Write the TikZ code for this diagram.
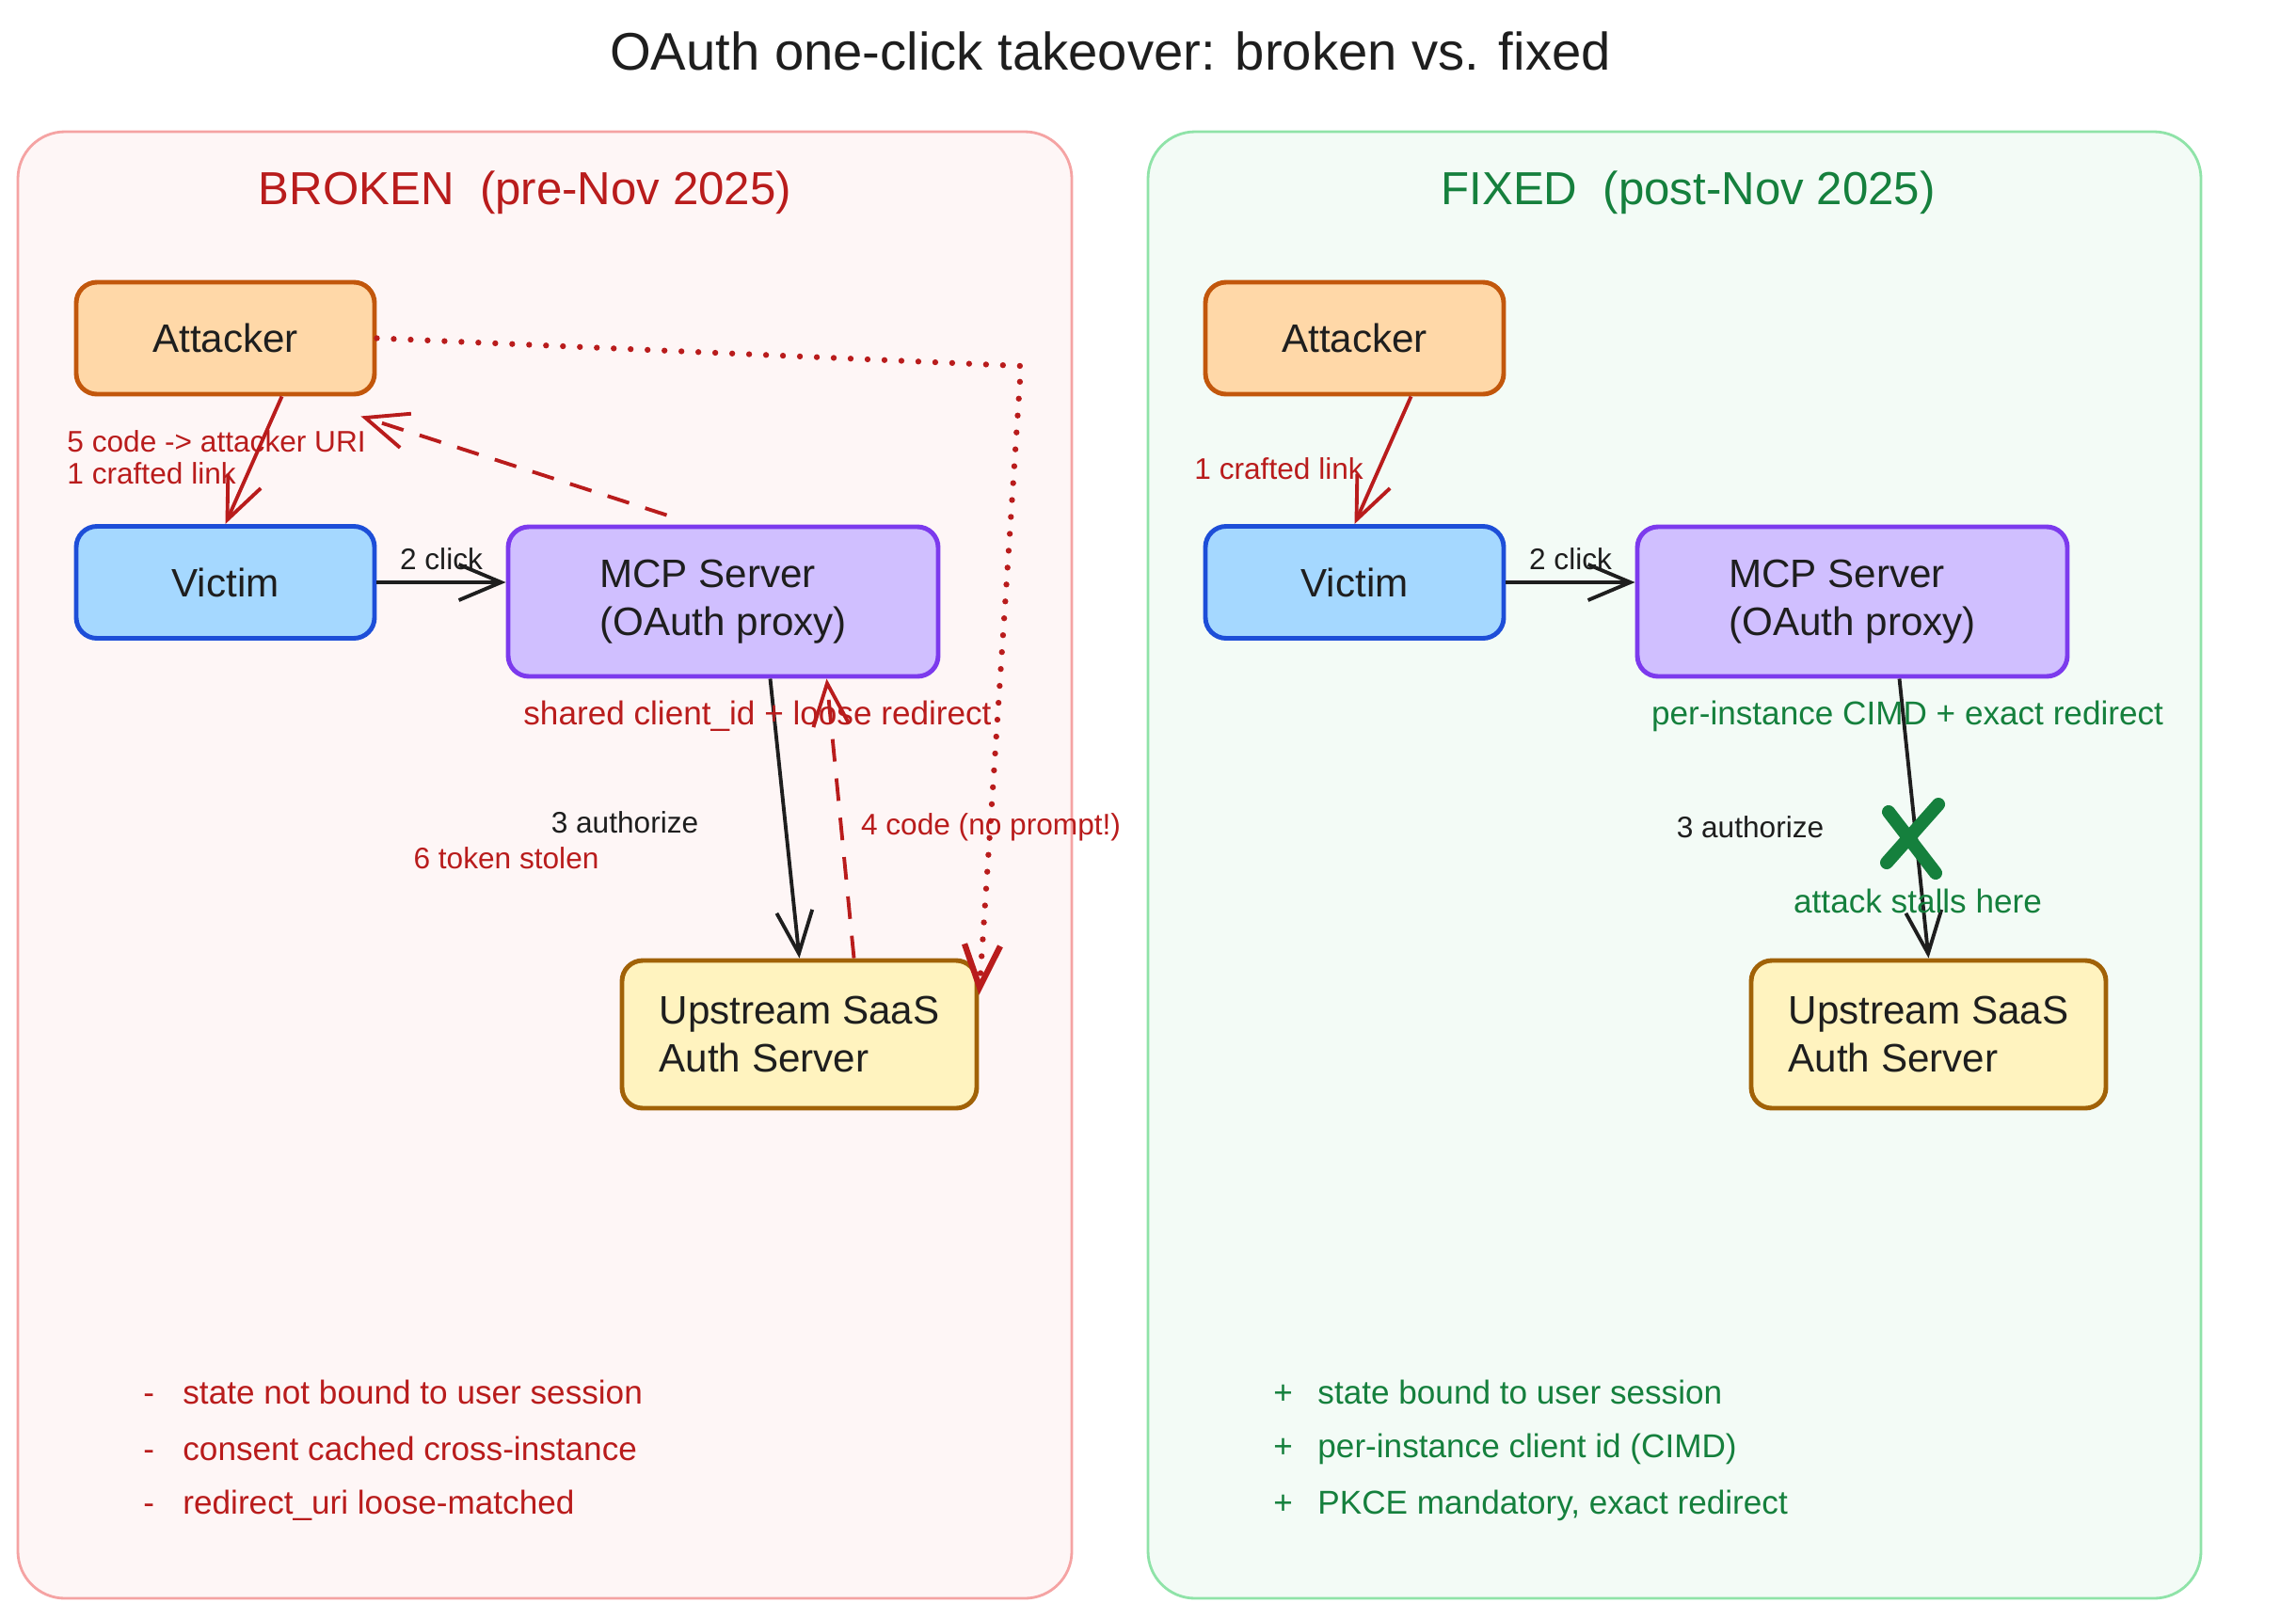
\documentclass[tikz,border=0pt]{standalone}
\usepackage{fontspec}
\setmainfont{Liberation Sans}
\usepackage{tikz}
\usetikzlibrary{arrows.meta, positioning, calc}
\definecolor{ink}{HTML}{1E1E1E}
\definecolor{badred}{HTML}{B91C1C}
\definecolor{goodgreen}{HTML}{15803D}
\definecolor{badline}{HTML}{F5A3A3}
\definecolor{badfill}{HTML}{FEF6F6}
\definecolor{goodline}{HTML}{8FE3A8}
\definecolor{goodfill}{HTML}{F3FBF6}
\definecolor{atkfill}{HTML}{FFD8A8}
\definecolor{atkline}{HTML}{C2570C}
\definecolor{vicfill}{HTML}{A5D8FF}
\definecolor{vicline}{HTML}{1D4ED8}
\definecolor{mcpfill}{HTML}{D0BFFF}
\definecolor{mcpline}{HTML}{7C3AED}
\definecolor{upsfill}{HTML}{FFF3BF}
\definecolor{upsline}{HTML}{A16207}

\begin{document}
\begin{tikzpicture}[font=\fontsize{12}{14.5}\selectfont, text=ink,
    panel/.style={rounded corners=5mm, line width=0.8pt},
    box/.style={draw, rounded corners=2.2mm, line width=1.4pt, align=left},
    actor/.style={box, minimum width=3.17cm, minimum height=1.19cm},
    flow/.style={-{Straight Barb[length=4.5mm,width=3.8mm]}, line width=1.1pt, draw=ink},
    evil/.style={flow, draw=badred},
    evildash/.style={evil, dash pattern=on 2.4mm off 1.8mm},
    evildot/.style={evil, line width=1.8pt, dash pattern=on 0pt off 1.8mm, line cap=round},
    edgelbl/.style={font=\fontsize{9}{10.5}\selectfont},
    note/.style={font=\fontsize{10}{12}\selectfont},
    head/.style={font=\fontsize{14}{16}\selectfont}]
    \fill[white] (0,0) rectangle (24.4,-17.2);
    \useasboundingbox (0,0) rectangle (24.4,-17.2);

    \node[font=\fontsize{16}{19}\selectfont] (title) at (11.80,-0.54) {OAuth one-click takeover: broken vs. fixed};

    \draw[panel, draw=badline, fill=badfill] (0.19,-1.40) rectangle (11.39,-16.99);
    \draw[panel, draw=goodline, fill=goodfill] (12.20,-1.40) rectangle (23.39,-16.99);
    \node[head, text=badred] (headL) at (5.58,-2.05) {BROKEN~~(pre-Nov 2025)};
    \node[head, text=goodgreen] (headR) at (17.94,-2.05) {FIXED~~(post-Nov 2025)};

    \node[actor, draw=atkline, fill=atkfill] (atkL) at (2.395,-3.595) {Attacker};
    \node[actor, draw=vicline, fill=vicfill] (vicL) at (2.395,-6.19) {Victim};
    \node[box, draw=mcpline, fill=mcpfill, minimum width=4.57cm, minimum height=1.59cm] (mcpL) at (7.685,-6.395) {MCP Server\\(OAuth proxy)};
    \node[box, draw=upsline, fill=upsfill, minimum width=3.77cm, minimum height=1.57cm] (upsL) at (8.495,-10.995) {Upstream SaaS\\Auth Server};
    \coordinate (hopL) at (10.85,-3.89);

    \draw[evil] ([xshift=6mm]atkL.south) -- (vicL.north);
    \draw[flow] (vicL.east) -- node[edgelbl, above] (clickL) {2 click} (vicL.east -| mcpL.west);
    \draw[flow] ([xshift=5mm]mcpL.south) -- (upsL.north);
    \draw[evildash] ([xshift=5.8mm]upsL.north) -- ([xshift=11mm]mcpL.south);
    \draw[evildash] ([xshift=-6mm,yshift=1mm]mcpL.north) -- ([xshift=-1.7mm,yshift=-2.1mm]atkL.south east);
    \draw[evildot] (atkL.east) -- (hopL) -- ([yshift=-3.9mm]upsL.north east);

    \node[edgelbl, text=badred, anchor=west] (codeL) at (0.59,-4.69) {5 code -> attacker URI};
    \node[edgelbl, text=badred, anchor=west] (linkL) at (0.59,-5.03) {1 crafted link};
    \node[note, text=badred] (sharedL) at (8.05,-7.61) {shared client\_id + loose redirect};
    \node[edgelbl] (authL) at (6.64,-8.74) {3 authorize};
    \node[edgelbl, text=badred] (stolenL) at (5.38,-9.12) {6 token stolen};
    \node[edgelbl, text=badred] (promptL) at (10.53,-8.79) {4 code (no prompt!)};

    \foreach \t [count=\i] in {state not bound to user session, consent cached cross-instance, redirect\_uri loose-matched}
        \node[note, text=badred, anchor=west] (conL\i) at (1.40,-14.2-0.6*\i) {\makebox[4.2mm][l]{-}\t};

    \node[actor, draw=atkline, fill=atkfill] (atkR) at (14.395,-3.595) {Attacker};
    \node[actor, draw=vicline, fill=vicfill] (vicR) at (14.395,-6.19) {Victim};
    \node[box, draw=mcpline, fill=mcpfill, minimum width=4.57cm, minimum height=1.59cm] (mcpR) at (19.685,-6.395) {MCP Server\\(OAuth proxy)};
    \node[box, draw=upsline, fill=upsfill, minimum width=3.77cm, minimum height=1.57cm] (upsR) at (20.495,-10.995) {Upstream SaaS\\Auth Server};

    \draw[evil] ([xshift=6mm]atkR.south) -- (vicR.north);
    \draw[flow] (vicR.east) -- node[edgelbl, above] (clickR) {2 click} (vicR.east -| mcpR.west);
    \draw[flow] ([xshift=5mm]mcpR.south) -- (upsR.north);

    \node[edgelbl, text=badred, anchor=west] (linkR) at (12.57,-4.98) {1 crafted link};
    \node[note, text=goodgreen] (cimdR) at (20.27,-7.61) {per-instance CIMD + exact redirect};
    \node[edgelbl] (authR) at (18.60,-8.79) {3 authorize};
    \node (stopR) at (20.32,-8.91) {};
    \draw[goodgreen, line width=4pt, line cap=round] ([shift={(0.28,0.36)}]stopR.center) -- ([shift={(-0.27,-0.26)}]stopR.center);
    \draw[goodgreen, line width=4pt, line cap=round] ([shift={(-0.25,0.28)}]stopR.center) -- ([shift={(0.25,-0.37)}]stopR.center);
    \node[edgelbl, text=goodgreen, font=\fontsize{10}{12}\selectfont] (stallR) at (20.38,-9.58) {attack stalls here};

    \foreach \t [count=\i] in {state bound to user session, per-instance client id (CIMD), {PKCE mandatory, exact redirect}}
        \node[note, text=goodgreen, anchor=west] (conR\i) at (13.41,-14.2-0.6*\i) {\makebox[4.7mm][l]{+}\t};
\end{tikzpicture}
\end{document}
